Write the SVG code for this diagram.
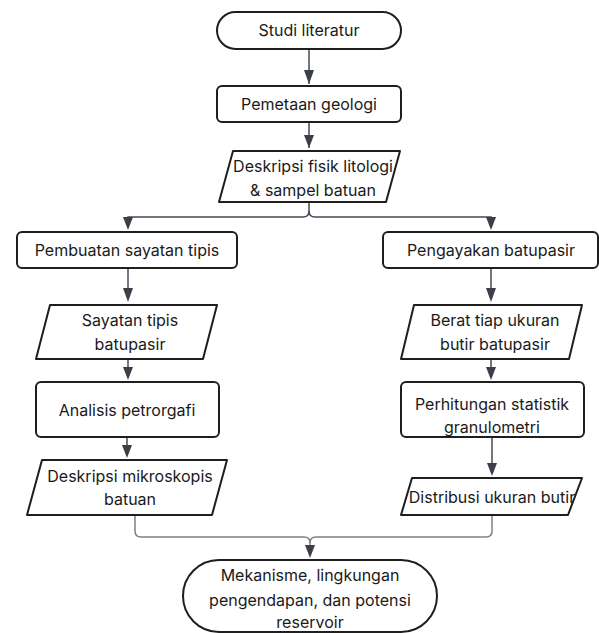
<svg xmlns="http://www.w3.org/2000/svg" width="599" height="633" viewBox="0 0 599 633">
<style>
.n{fill:#fff;stroke:#1e1e1e;stroke-width:2;stroke-linejoin:round}
.t{font-family:Inter,"Liberation Sans",sans-serif;font-size:16px;fill:#1a1a1a;text-anchor:middle}
.c{fill:none;stroke:#454a54;stroke-width:1.5}
.c2{fill:none;stroke:#808080;stroke-width:1.5}
</style>
<defs>
<marker id="ah" markerUnits="userSpaceOnUse" viewBox="0 0 10 12" markerWidth="10" markerHeight="12" refX="5" refY="12" orient="auto-start-reverse">
<path d="M0,0 L10,0 L5,12 z" fill="#3b3f48" transform="rotate(0)"/>
</marker>
</defs>
<rect width="599" height="633" fill="#fff"/>
<g id="connectors">
<path class="c" d="M309,49 V84"/>
<polygon points="304,70 314,70 309,84" fill="#3b3f48"/>
<path class="c" d="M309,122 V148"/>
<polygon points="304,135 314,135 309,148" fill="#3b3f48"/>
<path class="c" d="M309,202 V211 Q309,217 303,217 H128 V222"/>
<path class="c" d="M309,211 Q309,217 315,217 H491 V222"/>
<polygon points="123,217 133,217 128,230" fill="#3b3f48"/>
<polygon points="486,217 496,217 491,230" fill="#3b3f48"/>
<path class="c" d="M128,268 V290"/>
<polygon points="123,288 133,288 128,302" fill="#3b3f48"/>
<path class="c" d="M128,359 V370"/>
<polygon points="123,367 133,367 128,380" fill="#3b3f48"/>
<path class="c" d="M127,437 V448"/>
<polygon points="122,445 132,445 127,458" fill="#3b3f48"/>
<path class="c" d="M491,268 V290"/>
<polygon points="486,288 496,288 491,302" fill="#3b3f48"/>
<path class="c" d="M491,359 V370"/>
<polygon points="486,367 496,367 491,380" fill="#3b3f48"/>
<path class="c" d="M492,437 V465"/>
<polygon points="487,463 497,463 492,476" fill="#3b3f48"/>
<path class="c2" d="M135,515 V531 Q135,537 141,537 H304 Q310,537 310,543 V548"/>
<path class="c2" d="M492,515 V531 Q492,537 486,537 H316 Q310,537 310,543"/>
<polygon points="305,545 315,545 310,558" fill="#3b3f48"/>
</g>
<g id="n1">
<rect class="n" x="217" y="12" width="184" height="37" rx="18.5"/>
<text class="t" x="309" y="36">Studi literatur</text>
</g>
<g id="n2">
<rect class="n" x="217" y="86" width="184" height="36" rx="5"/>
<text class="t" x="309" y="110">Pemetaan geologi</text>
</g>
<g id="n3">
<polygon class="n" points="233,151 400,151 386,202 219,202"/>
<text class="t" x="313" y="172">Deskripsi fisik litologi</text>
<text class="t" x="313" y="196">&amp; sampel batuan</text>
</g>
<g id="n4">
<rect class="n" x="17" y="232" width="220" height="36" rx="5"/>
<text class="t" x="127" y="256">Pembuatan sayatan tipis</text>
</g>
<g id="n5">
<rect class="n" x="383" y="232" width="215" height="36" rx="5"/>
<text class="t" x="491" y="256">Pengayakan batupasir</text>
</g>
<g id="n6">
<polygon class="n" points="50,305 217,305 203,359 36,359"/>
<text class="t" x="130" y="326">Sayatan tipis</text>
<text class="t" x="130" y="350">batupasir</text>
</g>
<g id="n7">
<polygon class="n" points="414,305 582,305 569,359 401,359"/>
<text class="t" x="495" y="326">Berat tiap ukuran</text>
<text class="t" x="495" y="350">butir batupasir</text>
</g>
<g id="n8">
<rect class="n" x="36" y="382" width="183" height="55" rx="5"/>
<text class="t" x="127" y="416">Analisis petrorgafi</text>
</g>
<g id="n9">
<rect class="n" x="401" y="382" width="183" height="55" rx="5"/>
<text class="t" x="492" y="410">Perhitungan statistik</text>
<text class="t" x="492" y="433">granulometri</text>
</g>
<g id="n10">
<polygon class="n" points="42,460 227,460 212,515 27,515"/>
<text class="t" x="130" y="482">Deskripsi mikroskopis</text>
<text class="t" x="130" y="505">batuan</text>
</g>
<g id="n11">
<polygon class="n" points="412,478 582,478 568,515 401,515"/>
<text class="t" x="492" y="503">Distribusi ukuran butir</text>
</g>
<g id="n12">
<rect class="n" x="183" y="560" width="254" height="72" rx="36"/>
<text class="t" x="310" y="581">Mekanisme, lingkungan</text>
<text class="t" x="310" y="606">pengendapan, dan potensi</text>
<text class="t" x="310" y="628">reservoir</text>
</g>
</svg>
